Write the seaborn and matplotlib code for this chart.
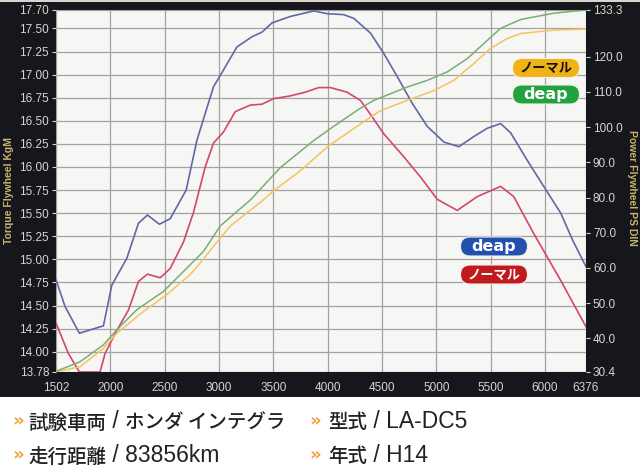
import matplotlib
matplotlib.use('Agg')
import matplotlib.pyplot as plt
import seaborn as sns
import pandas as pd
from matplotlib.patches import FancyBboxPatch, Rectangle

# ---------------- data ----------------
deap_torque_rpm = [1502, 1585, 1717, 1938, 2015, 2153, 2260, 2343, 2453, 2552, 2699, 2798,
                   2951, 3012, 3166, 3304, 3396, 3488, 3657, 3872, 3995, 4148, 4240, 4394,
                   4516, 4640, 4778, 4916, 5069, 5207, 5345, 5469, 5591, 5683, 5837, 5987,
                   6144, 6252, 6376]
deap_torque = [14.78, 14.49, 14.20, 14.28, 14.72, 15.01, 15.39, 15.48, 15.38, 15.44, 15.75, 16.29,
               16.87, 16.99, 17.30, 17.41, 17.46, 17.56, 17.63, 17.69, 17.66, 17.65, 17.61, 17.45,
               17.23, 16.98, 16.69, 16.44, 16.27, 16.22, 16.33, 16.42, 16.47, 16.37, 16.07, 15.79,
               15.50, 15.21, 14.92]

normal_torque_rpm = [1502, 1616, 1717, 1907, 1953, 2061, 2168, 2260, 2343, 2460, 2552, 2675,
                     2767, 2874, 2951, 3043, 3151, 3289, 3396, 3503, 3657, 3795, 3918, 4025,
                     4179, 4302, 4364, 4516, 4701, 4855, 5008, 5192, 5377, 5591, 5711, 5895,
                     6144, 6376]
normal_torque = [14.31, 13.98, 13.78, 13.78, 13.98, 14.23, 14.45, 14.76, 14.84, 14.80, 14.90, 15.19,
                 15.51, 16.00, 16.26, 16.38, 16.60, 16.67, 16.68, 16.74, 16.77, 16.81, 16.86, 16.86,
                 16.81, 16.72, 16.62, 16.36, 16.11, 15.89, 15.65, 15.53, 15.68, 15.79, 15.68, 15.28,
                 14.77, 14.27]

deap_power_rpm = [1502, 1723, 1938, 2061, 2245, 2490, 2675, 2859, 3012, 3105, 3289, 3565, 3872,
                  4087, 4302, 4424, 4578, 4732, 4916, 5100, 5285, 5438, 5591, 5775, 6082, 6376]
deap_power = [30.6, 33.3, 38.1, 42.4, 48.1, 53.3, 59.0, 64.7, 71.9, 74.4, 79.3, 88.5, 96.2,
              100.9, 105.4, 107.6, 109.5, 111.4, 113.3, 115.7, 119.5, 123.8, 128.1, 130.6, 132.4, 133.3]

normal_power_rpm = [1502, 1723, 1938, 2061, 2306, 2521, 2736, 2828, 3012, 3105, 3396, 3503, 3749,
                    4010, 4302, 4486, 4732, 4977, 5161, 5345, 5499, 5653, 5775, 6082, 6376]
normal_power = [30.4, 31.9, 37.1, 41.4, 47.6, 52.4, 58.1, 61.4, 68.5, 71.9, 79.0, 81.9, 87.6,
                94.7, 100.9, 104.7, 107.6, 110.4, 113.3, 118.1, 122.4, 125.2, 126.6, 127.6, 127.9]

x_ticks = [1502, 2000, 2500, 3000, 3500, 4000, 4500, 5000, 5500, 6000, 6376]
torque_ticks = [13.78, 14.00, 14.25, 14.50, 14.75, 15.00, 15.25, 15.50, 15.75, 16.00, 16.25,
                16.50, 16.75, 17.00, 17.25, 17.50, 17.70]
power_ticks = [30.4, 40.0, 50.0, 60.0, 70.0, 80.0, 90.0, 100.0, 110.0, 120.0, 133.3]

left_label = "Torque Flywheel KgM"
right_label = "Power Flywheel PS DIN"
badge_labels = ["ノーマル", "deap", "deap", "ノーマル"]
# each info item: list of (text, is_cjk)
info_items = [
    [[("試験車両", True), (" / ", False), ("ホンダ インテグラ", True)],
     [("型式", True), (" / LA-DC5", False)]],
    [[("走行距離", True), (" / 83856km", False)],
     [("年式", True), (" / H14", False)]],
]

# ---------------- style ----------------
sns.set_theme(style='white')
plt.rcParams['font.family'] = ['Liberation Sans', 'Noto Sans CJK JP', 'DejaVu Sans']

W, H = 640, 467
fig = plt.figure(figsize=(W / 100, H / 100), dpi=100)
fig.patch.set_facecolor('white')
fig.patches.append(Rectangle((0, 1 - 397 / H), 1, 397 / H, transform=fig.transFigure,
                             facecolor='#16171c', edgecolor='none', zorder=-10))
fig.patches.append(Rectangle((0, 1 - 2 / H), 1, 2 / H, transform=fig.transFigure,
                             facecolor='#d9d5cd', edgecolor='none', zorder=-9))

ax = fig.add_axes([56 / W, 1 - 372 / H, 530 / W, 362 / H])
ax.set_facecolor('#f6f6f4')
ax2 = ax.twinx()

c_blue, c_red, c_green, c_yellow = '#6068a6', '#d4466e', '#7aae72', '#f2c45c'

df_dt = pd.DataFrame({'rpm': deap_torque_rpm, 'v': deap_torque})
df_nt = pd.DataFrame({'rpm': normal_torque_rpm, 'v': normal_torque})
df_dp = pd.DataFrame({'rpm': deap_power_rpm, 'v': deap_power})
df_np = pd.DataFrame({'rpm': normal_power_rpm, 'v': normal_power})

sns.lineplot(data=df_np, x='rpm', y='v', ax=ax2, color=c_yellow, lw=1.1, sort=False, estimator=None)
sns.lineplot(data=df_dp, x='rpm', y='v', ax=ax2, color=c_green, lw=1.1, sort=False, estimator=None)
sns.lineplot(data=df_nt, x='rpm', y='v', ax=ax, color=c_red, lw=1.2, sort=False, estimator=None)
sns.lineplot(data=df_dt, x='rpm', y='v', ax=ax, color=c_blue, lw=1.2, sort=False, estimator=None)

ax.set_xlim(1502, 6376)
ax.set_ylim(13.78, 17.70)
ax2.set_ylim(30.4, 133.3)

ax.set_xticks(x_ticks)
ax.set_xticklabels([str(t) for t in x_ticks])
ax.set_yticks(torque_ticks)
ax.set_yticklabels([f"{t:.2f}" for t in torque_ticks])
ax2.set_yticks(power_ticks)
ax2.set_yticklabels([f"{t:.1f}" for t in power_ticks])

for a in (ax, ax2):
    for s in a.spines.values():
        s.set_visible(False)
    a.set_xlabel('')
    a.set_ylabel('')
    a.tick_params(colors='#d8d5ce', labelsize=8.5, length=3, width=0.8, direction='out', pad=2)

ax.grid(True, color='#a2a2a2', lw=0.9)
ax2.grid(False)
ax.set_axisbelow(True)
ax.tick_params(axis='x', pad=4)

fig.text(9 / W, 1 - 191 / H, left_label, rotation=90, ha='center', va='center',
         color='#c9b46c', fontsize=7.5, fontweight='bold')
fig.text(632 / W, 1 - 188 / H, right_label, rotation=270, ha='center', va='center',
         color='#c9b46c', fontsize=7.5, fontweight='bold')

# badges (pixel-center positions)
badges = [((546, 68), '#f0b214', '#111111'),
          ((546, 94.5), '#22a23e', 'white'),
          ((494, 246.5), '#2150b0', 'white'),
          ((494, 274.5), '#c01a1e', 'white')]
bw, bh = 0.67, 0.19
for ((px, py), fc, tc), lab in zip(badges, badge_labels):
    xi, yi = px / 100, (H - py) / 100
    p = FancyBboxPatch((xi - bw / 2, yi - bh / 2), bw, bh,
                       boxstyle=f"round,pad=0,rounding_size={bh / 2}",
                       transform=fig.dpi_scale_trans, facecolor=fc,
                       edgecolor='#f4f0e8', lw=0.8, zorder=5)
    fig.patches.append(p)
    if lab.isascii():
        fig.text(px / W, 1 - (py + 0.5) / H, lab, ha='center', va='center', color=tc,
                 fontsize=11.5, fontweight='bold', zorder=6, family=['DejaVu Sans'])
    else:
        fig.text(px / W, 1 - py / H, lab, ha='center', va='center', color=tc,
                 fontsize=9.5, fontweight='bold', zorder=6,
                 family=['Noto Sans CJK JP', 'DejaVu Sans'])

# bottom info text, drawn piece by piece
renderer = fig.canvas.get_renderer()
rows_y = [421, 455]
cols_x = [(18, 28), (315, 328)]
for row, ry in zip(info_items, rows_y):
    for (cx, tx), item in zip(cols_x, row):
        fig.text(cx / W, 1 - ry / H, "»", ha='center', va='center', color='#f0a040',
                 fontsize=13, fontweight='bold', family=['DejaVu Sans'])
        xpos = tx
        for txt, is_cjk in item:
            if is_cjk:
                t = fig.text(xpos / W, 1 - (ry + 7.5) / H, txt, ha='left', va='baseline',
                             color='#222222', fontsize=14, fontweight='medium',
                             family=['Noto Sans CJK JP', 'DejaVu Sans'])
            else:
                t = fig.text(xpos / W, 1 - (ry + 7.5) / H, txt.replace(' ', '\u00a0'), ha='left',
                             va='baseline', color='#222222', fontsize=16.5,
                             family=['Liberation Sans', 'DejaVu Sans'])
            bb = t.get_window_extent(renderer)
            xpos = bb.x1

fig.savefig('out.png', dpi=100, facecolor=fig.get_facecolor())
